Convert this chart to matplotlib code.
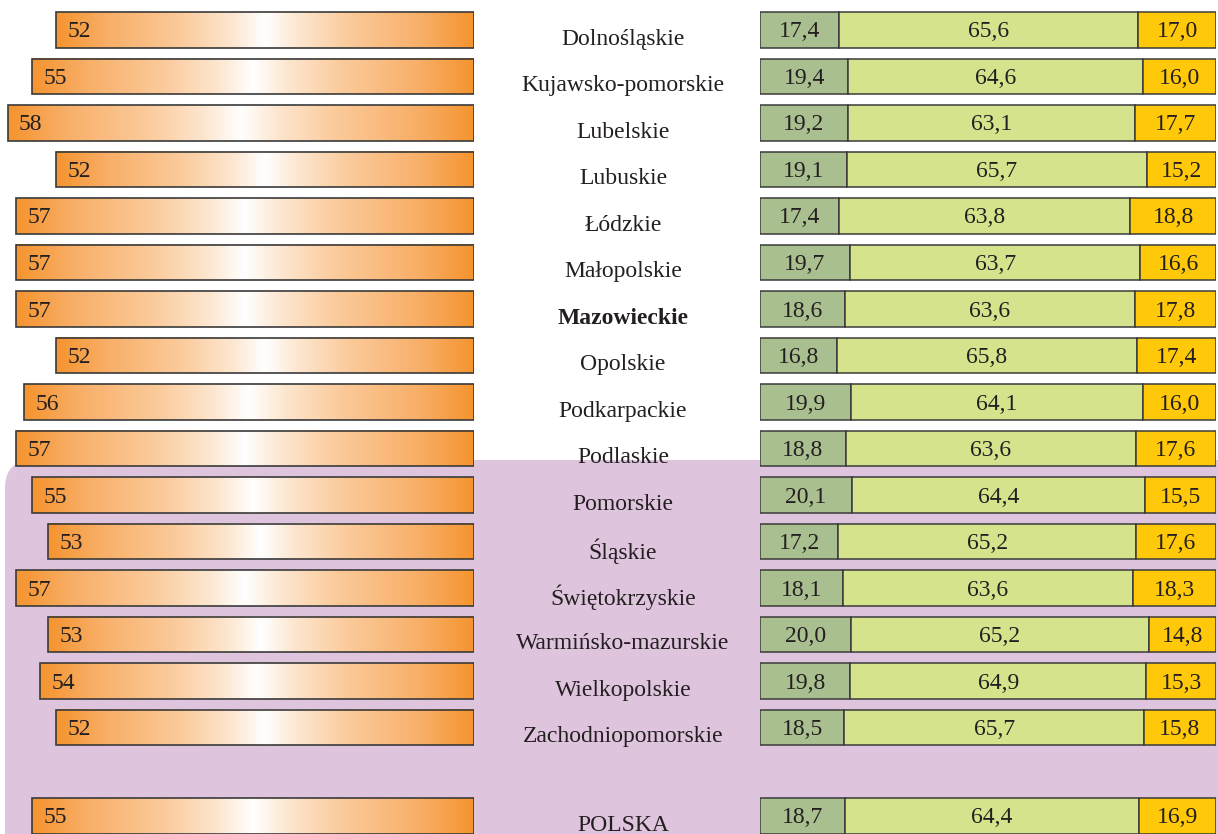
import matplotlib.pyplot as plt
import numpy as np
from matplotlib.colors import LinearSegmentedColormap
from matplotlib.patches import FancyBboxPatch
from matplotlib.transforms import IdentityTransform, blended_transform_factory

plt.rcParams['font.family'] = ['Liberation Serif', 'DejaVu Serif']

regions = ["Dolnośląskie", "Kujawsko-pomorskie", "Lubelskie", "Lubuskie", "Łódzkie",
           "Małopolskie", "Mazowieckie", "Opolskie", "Podkarpackie", "Podlaskie",
           "Pomorskie", "Śląskie", "Świętokrzyskie", "Warmińsko-mazurskie",
           "Wielkopolskie", "Zachodniopomorskie", "POLSKA"]
left_values = [52, 55, 58, 52, 57, 57, 57, 52, 56, 57, 55, 53, 57, 53, 54, 52, 55]
pre_work = [17.4, 19.4, 19.2, 19.1, 17.4, 19.7, 18.6, 16.8, 19.9, 18.8,
            20.1, 17.2, 18.1, 20.0, 19.8, 18.5, 18.7]
work_age = [65.6, 64.6, 63.1, 65.7, 63.8, 63.7, 63.6, 65.8, 64.1, 63.6,
            64.4, 65.2, 63.6, 65.2, 64.9, 65.7, 64.4]
post_work = [17.0, 16.0, 17.7, 15.2, 18.8, 16.6, 17.8, 17.4, 16.0, 17.6,
             15.5, 17.6, 18.3, 14.8, 15.3, 15.8, 16.9]

def fmt(v):
    return f"{v:.1f}".replace(".", ",")

# rows, with an extra gap before POLSKA
gap = 0.9
ypos = np.arange(len(regions), dtype=float)
ypos[-1] += gap
ylim = (17.29, -0.645)
bar_h = 0.76
fs = 17

W, H = 1218, 834
fig = plt.figure(figsize=(W / 100, H / 100), dpi=100)
fig.patch.set_facecolor('white')

# pink background box
bg = FancyBboxPatch((5, -60), 1400, 374 + 60, boxstyle="round,pad=0,rounding_size=28",
                    transform=IdentityTransform(), facecolor='#DFC4DE', edgecolor='none', zorder=0)
fig.add_artist(bg)

# left: gradient bars growing leftwards
axl = fig.add_axes([0, 0, 474 / W, 1])
axl.axis('off')
cmap = LinearSegmentedColormap.from_list('og', [
    (0.0, '#F5942F'), (0.12, '#F8AE66'), (0.3, '#FBCB9C'), (0.42, '#FDE6CF'), (0.5, '#FFFFFF'),
    (0.58, '#FDE6CF'), (0.7, '#FBCB9C'), (0.88, '#F8AE66'), (1.0, '#F5942F')])
grad = np.linspace(0, 1, 256).reshape(1, -1)
for y, v in zip(ypos, left_values):
    axl.imshow(grad, cmap=cmap, aspect='auto', extent=[0, v, y + bar_h / 2, y - bar_h / 2],
               zorder=2, interpolation='bilinear')
    axl.barh(y, v, height=bar_h, left=0, facecolor='none', edgecolor='#3a3a3a', linewidth=1.2, zorder=3)
    axl.annotate(str(v), (v, y), xytext=(11, -2), textcoords='offset pixels',
                 ha='left', va='center', fontsize=fs, color='#231f20', zorder=4)
axl.set_xlim(59, 0)
axl.set_ylim(*ylim)

# right: stacked 100% bars
axr = fig.add_axes([760 / W, 0, 456 / W, 1])
axr.axis('off')
colors = ['#AABF8F', '#D4E38C', '#FFC90A']
lefts = np.zeros(len(regions))
for vals, c in zip([pre_work, work_age, post_work], colors):
    vals = np.array(vals)
    axr.barh(ypos, vals, left=lefts, height=bar_h, color=c, edgecolor='#3a3a3a', linewidth=1.1, zorder=3)
    for y, l, v in zip(ypos, lefts, vals):
        axr.annotate(fmt(v), (l + v / 2, y), xytext=(0, -2), textcoords='offset pixels',
                     ha='center', va='center', fontsize=fs, color='#231f20', zorder=4)
    lefts = lefts + vals
axr.set_xlim(0, 100)
axr.set_ylim(*ylim)

# region names in the middle
tr = blended_transform_factory(fig.transFigure, axr.transData)
for y, name in zip(ypos, regions):
    fig.text(623 / W, y + 0.2, name, transform=tr, ha='center', va='center', fontsize=fs,
             color='#231f20', fontweight='bold' if name == "Mazowieckie" else 'normal')

fig.savefig('out.png', dpi=100)
